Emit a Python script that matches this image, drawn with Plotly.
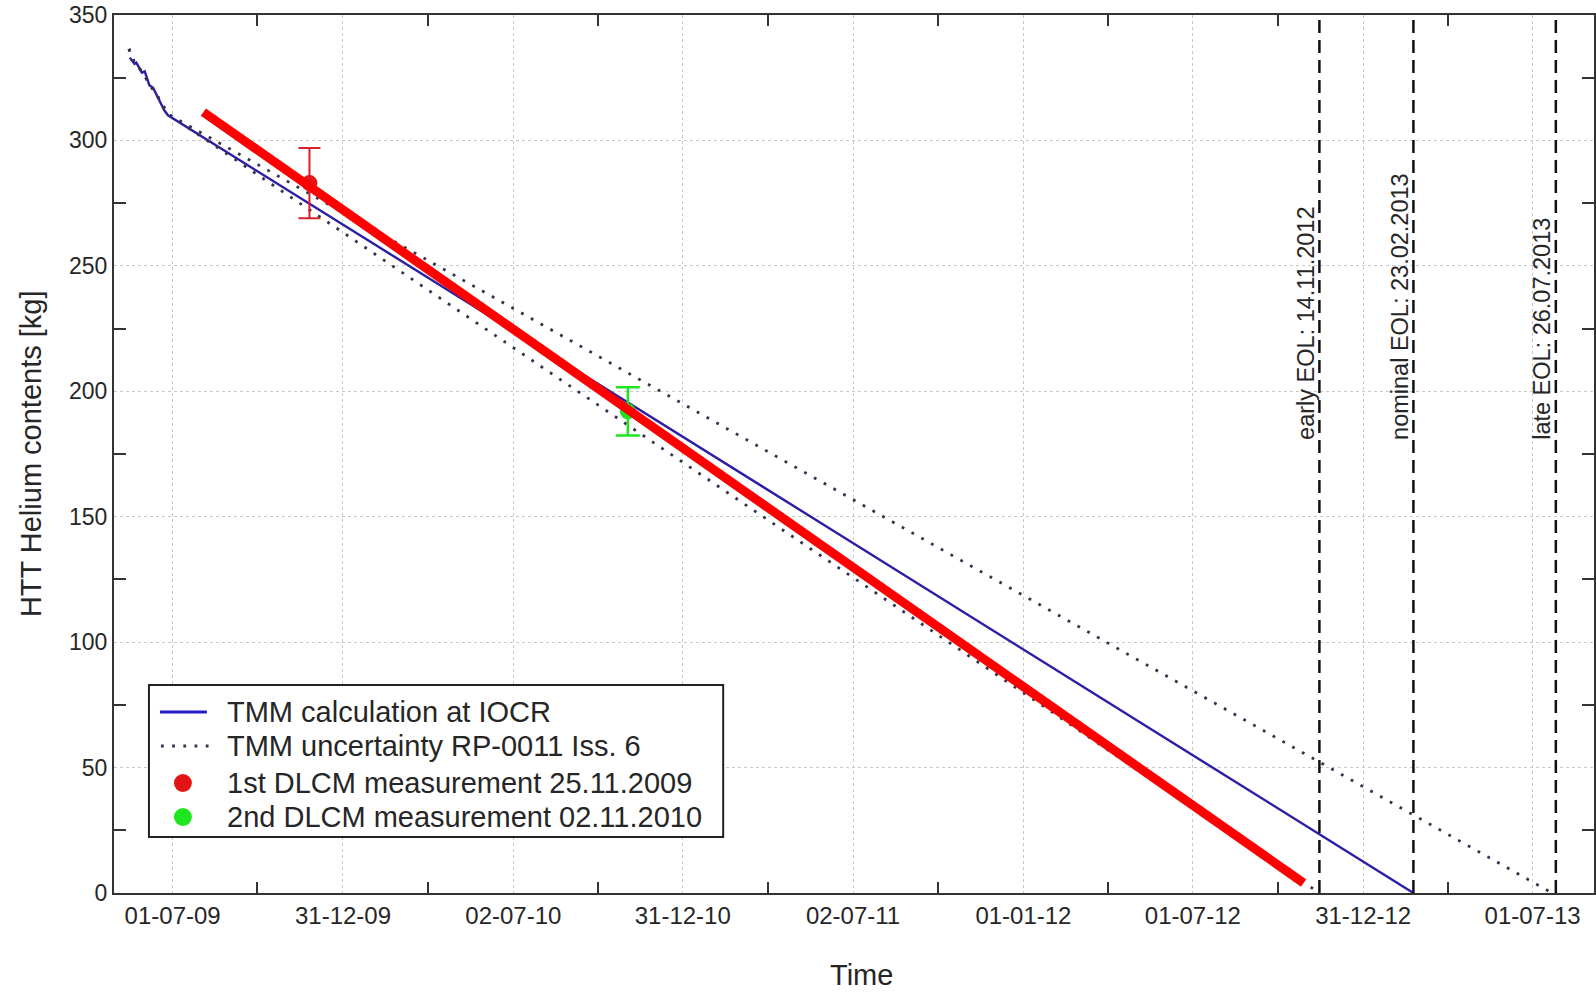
import plotly.graph_objects as go

# ---------------- data ----------------
calc_dates = ["2009-05-16", "2009-05-21", "2009-05-23", "2009-05-29", "2009-06-01",
              "2009-06-06", "2009-06-10", "2009-06-15", "2009-06-19", "2009-06-22",
              "2009-06-26", "2013-02-23"]
calc_vals = [333.0, 330.5, 331.0, 327.0, 327.5, 322.0, 321.0, 317.0, 314.0, 312.0, 310.0, 0.0]

upper_dates = ["2009-05-15", "2009-05-21", "2009-05-29", "2009-06-06", "2009-06-15",
               "2009-06-26", "2013-07-22"]
upper_vals = [336.5, 331.0, 327.5, 322.5, 317.5, 310.5, 0.0]

lower_dates = ["2009-05-15", "2009-05-21", "2009-05-29", "2009-06-06", "2009-06-15",
               "2009-06-26", "2012-11-14"]
lower_vals = [336.5, 331.0, 327.5, 322.5, 317.5, 310.5, 0.0]

meas1_date = ["2009-11-25"]
meas1_val = [283.0]
meas1_err = [14.0]

meas2_date = ["2010-11-02"]
meas2_val = [192.0]
meas2_err = [9.6]

trend_dates = ["2009-08-03", "2012-10-28"]
trend_vals = [311.3, 4.0]

eol_dates = ["2012-11-14", "2013-02-23", "2013-07-26"]
eol_labels = ["early EOL: 14.11.2012", "nominal EOL: 23.02.2013", "late EOL: 26.07.2013"]

legend_labels = ["TMM calculation at IOCR", "TMM uncertainty RP-0011 Iss. 6",
                 "1st DLCM measurement 25.11.2009", "2nd DLCM measurement 02.11.2010"]

x_tick_vals = ["2009-07-01", "2009-12-31", "2010-07-02", "2010-12-31", "2011-07-02",
               "2012-01-01", "2012-07-01", "2012-12-31", "2013-07-01"]
x_tick_text = ["01-07-09", "31-12-09", "02-07-10", "31-12-10", "02-07-11",
               "01-01-12", "01-07-12", "31-12-12", "01-07-13"]
x_minor_vals = ["2009-09-30", "2010-04-01", "2010-10-01", "2011-04-02", "2011-10-01",
                "2012-04-01", "2012-09-30", "2013-04-01"]
y_tick_vals = [0, 50, 100, 150, 200, 250, 300, 350]
y_minor_vals = [25, 75, 125, 175, 225, 275, 325]

# ---------------- styling ----------------
FONT = "Liberation Sans, Arial, Helvetica, sans-serif"
TXT = "#262626"
BLUE = "#2a1fa6"
DOTC = "#34344f"
RED_M = "#e21414"
GREEN_M = "#1ee61e"

# plot area in pixels
PL, PR, PT, PB = 114, 1596, 15, 893
W, H = 1596, 994


def px(xp):
    return (xp - PL) / (PR - PL)


def py(yp):
    return (PB - yp) / (PB - PT)


fig = go.Figure()

fig.add_trace(go.Scatter(x=calc_dates, y=calc_vals, mode="lines",
                         name=legend_labels[0], showlegend=False,
                         line=dict(color=BLUE, width=2.4)))
fig.add_trace(go.Scatter(x=upper_dates, y=upper_vals, mode="lines",
                         name=legend_labels[1], showlegend=False,
                         line=dict(color=DOTC, width=2.8, dash="2.8px,8.4px")))
fig.add_trace(go.Scatter(x=lower_dates, y=lower_vals, mode="lines",
                         name=legend_labels[1], showlegend=False,
                         line=dict(color=DOTC, width=2.8, dash="2.8px,8.4px")))
fig.add_trace(go.Scatter(x=meas1_date, y=meas1_val, mode="markers",
                         name=legend_labels[2], showlegend=False,
                         marker=dict(color=RED_M, size=16),
                         error_y=dict(type="data", array=meas1_err, color="#d8202a",
                                      thickness=2, width=11)))
fig.add_trace(go.Scatter(x=meas2_date, y=meas2_val, mode="markers",
                         name=legend_labels[3], showlegend=False,
                         marker=dict(color=GREEN_M, size=16),
                         error_y=dict(type="data", array=meas2_err, color=GREEN_M,
                                      thickness=2.5, width=12)))
fig.add_trace(go.Scatter(x=trend_dates, y=trend_vals, mode="lines", showlegend=False,
                         line=dict(color="#ff0000", width=9)))

shapes = []
annotations = []
for d, lab in zip(eol_dates, eol_labels):
    shapes.append(dict(type="line", xref="x", yref="paper", x0=d, x1=d, y0=0, y1=1,
                       line=dict(color="#111111", width=2.5, dash="13px,7px")))
    annotations.append(dict(x=d, y=py(442), xref="x", yref="paper", text=lab,
                            textangle=-90, showarrow=False, xanchor="center",
                            yanchor="bottom", xshift=-14,
                            font=dict(family=FONT, size=23.5, color=TXT)))

# axis titles
annotations.append(dict(x=px(31), y=0.5, xref="paper", yref="paper",
                        text="HTT Helium contents [kg]", textangle=-90, showarrow=False,
                        xanchor="center", yanchor="middle",
                        font=dict(family=FONT, size=29, color=TXT)))
annotations.append(dict(x=px(863), y=py(993), xref="paper", yref="paper",
                        text="Time", showarrow=False, xanchor="center", yanchor="bottom",
                        font=dict(family=FONT, size=29, color=TXT)))

# legend box (drawn on the paper)
shapes.append(dict(type="rect", xref="paper", yref="paper",
                   x0=px(149), x1=px(724), y0=py(837), y1=py(685),
                   fillcolor="white", line=dict(color="#222222", width=2), layer="above"))
row_y = [712, 746, 783, 817]
shapes.append(dict(type="line", xref="paper", yref="paper", x0=px(160), x1=px(207),
                   y0=py(row_y[0]), y1=py(row_y[0]), line=dict(color="#2418c8", width=3),
                   layer="above"))
shapes.append(dict(type="line", xref="paper", yref="paper", x0=px(161), x1=px(210),
                   y0=py(row_y[1]), y1=py(row_y[1]),
                   line=dict(color=DOTC, width=2.8, dash="2.8px,8.4px"), layer="above"))
for ry, col in ((row_y[2], RED_M), (row_y[3], GREEN_M)):
    shapes.append(dict(type="circle", xref="paper", yref="paper",
                       x0=px(174), x1=px(192), y0=py(ry + 9), y1=py(ry - 9),
                       fillcolor=col, line=dict(color=col, width=0), layer="above"))
for ry, lab in zip(row_y, legend_labels):
    annotations.append(dict(x=px(225), y=py(ry), xref="paper", yref="paper", text=lab,
                            showarrow=False, xanchor="left", yanchor="middle",
                            font=dict(family=FONT, size=29, color=TXT)))

fig.update_layout(
    width=W, height=H,
    margin=dict(l=PL, r=W - PR, t=PT, b=H - PB),
    paper_bgcolor="white", plot_bgcolor="white",
    font=dict(family=FONT, color=TXT),
    shapes=shapes, annotations=annotations,
    showlegend=False,
)

fig.update_xaxes(
    type="date", range=["2009-04-29", "2013-09-05"],
    tickmode="array", tickvals=x_tick_vals, ticktext=x_tick_text,
    ticks="", showgrid=True, gridcolor="#c9c9c9", griddash="dot", gridwidth=1.2,
    tickfont=dict(family=FONT, size=24, color=TXT),
    showline=True, linecolor="#333333", linewidth=2, mirror="allticks",
    minor=dict(tickmode="array", tickvals=x_minor_vals, ticks="inside", ticklen=11,
               tickwidth=2, tickcolor="#333333", showgrid=False),
    zeroline=False,
)
fig.update_yaxes(
    range=[0, 350], tickmode="array", tickvals=y_tick_vals,
    ticks="", showgrid=True, gridcolor="#c9c9c9", griddash="dot", gridwidth=1.2,
    tickfont=dict(family=FONT, size=23, color=TXT),
    showline=True, linecolor="#333333", linewidth=2, mirror="allticks",
    minor=dict(tickmode="array", tickvals=y_minor_vals, ticks="inside", ticklen=12,
               tickwidth=2, tickcolor="#333333", showgrid=False),
    zeroline=False,
)

fig.write_html("out.html")
